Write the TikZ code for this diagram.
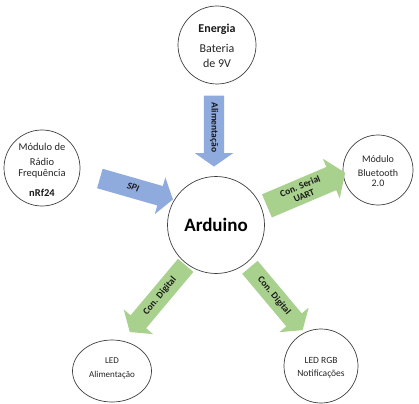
\documentclass[tikz,border=0pt]{standalone}
\usepackage{fontspec}
\setmainfont{Carlito}
\usetikzlibrary{shapes.arrows,shapes.geometric}
\definecolor{arrblue}{HTML}{8FAADC}
\definecolor{arrgreen}{HTML}{A9D18E}
\begin{document}
\begin{tikzpicture}[x=1pt,y=-1pt,
  circ/.style={circle,draw=black!75,line width=0.7pt,inner sep=0pt,align=center,text=black!85},
  arr/.style={single arrow,inner xsep=2pt,inner ysep=5.5pt,single arrow head extend=9pt,
    single arrow tip angle=110,text height=6.8pt,text depth=2pt,
    font=\bfseries\fontsize{9.5}{10}\selectfont,text=black!90},
  arr2/.style={single arrow,inner xsep=2pt,inner ysep=4pt,single arrow head extend=9pt,
    single arrow tip angle=110,align=center,
    font=\bfseries\fontsize{9.5}{10}\selectfont,text=black!90},
  small/.style={font=\fontsize{10.5}{11.5}\selectfont},
  tiny/.style={font=\fontsize{9}{10}\selectfont}
]
\useasboundingbox (0,0) rectangle (419,403);
\fill[white] (0,0) rectangle (419,403);

% circles
\node[circ,minimum size=97pt] (ard) at (216,225) {};
\node[font=\bfseries\fontsize{19}{21}\selectfont,text=black] (ardt) at (216,225) {Arduino};

\node[circ,minimum size=78pt] (en) at (217,45) {};
\node[font=\bfseries\fontsize{12}{13}\selectfont,text=black!90] (ent) at (217,29) {Energia};
\node[font=\fontsize{12}{15}\selectfont,align=center,text=black!85] (ent2) at (217,56) {Bateria\\de 9V};

\node[circ,minimum size=76pt] (rf) at (42,168) {};
\node[small,align=center,text=black!85] (rft) at (42,161) {Módulo de\\[3pt]Rádio\\Frequência};
\node[font=\bfseries\fontsize{10.5}{11}\selectfont,text=black!90] (rfb) at (42,193) {nRf24};

\node[circ,minimum size=70pt] (bt) at (378,170) {};
\node[font=\fontsize{10}{14}\selectfont,align=center,text=black!85] (btt) at (378,171) {Módulo\\Bluetooth\\[-4pt]2.0};

\node[ellipse,draw=black!75,line width=0.7pt,minimum width=79pt,minimum height=62pt,inner sep=0pt] (led) at (112,371) {};
\node[tiny,align=center,text=black!85] (ledt) at (112,368) {LED\\[4pt]Alimentação};

\node[circ,minimum size=74pt] (rgb) at (321,366) {};
\node[font=\fontsize{9.5}{13}\selectfont,align=center,text=black!85] (rgbt) at (321,368) {LED RGB\\Notificações};

% arrows
\node[arr,fill=arrblue,minimum height=71pt,rotate=-90] (a1) at (214,127.5) {Alimentação};
\node[arr,fill=arrblue,minimum height=76pt,rotate=-16] (a2) at (133,188) {\itshape SPI};
\node[arr2,fill=arrgreen,minimum height=85pt,rotate=23] (a3) at (302,191) {Con. Serial\\UART};
\node[arr,fill=arrgreen,minimum height=87pt,rotate=50,shape border rotate=180] (a4) at (160,296) {Con. Digital};
\node[arr,fill=arrgreen,minimum height=82pt,rotate=-50] (a5) at (274,296) {Con. Digital};
\end{tikzpicture}
\end{document}
